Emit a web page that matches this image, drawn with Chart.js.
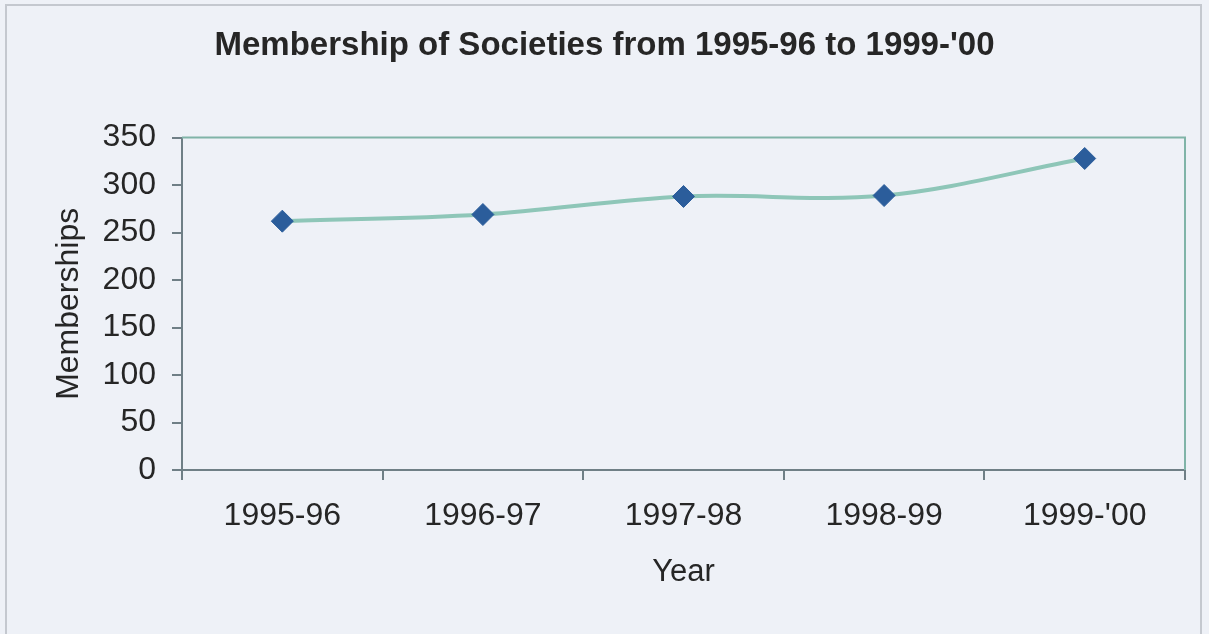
<!DOCTYPE html>
<html>
<head>
<meta charset="utf-8">
<title>Membership of Societies</title>
<script src="https://cdn.jsdelivr.net/npm/chart.js@4.4.1/dist/chart.umd.min.js"></script>
<style>
  html, body { margin: 0; padding: 0; background: #eef1f7; }
  #wrap { position: relative; width: 1209px; height: 634px; }
  #frame {
    position: absolute; left: 5px; top: 4px; width: 1197px; height: 640px;
    border: 2px solid #c4c8cf; box-sizing: border-box; pointer-events: none;
  }
</style>
</head>
<body>
<div id="wrap">
  <canvas id="membersChart" width="1209" height="634"></canvas>
  <div id="frame"></div>
</div>
<script>
// membership counts per academic year
var years = ["1995-96", "1996-97", "1997-98", "1998-99", "1999-'00"];
var memberships = [262, 269, 288, 289, 328];
var yTicks = [0, 50, 100, 150, 200, 250, 300, 350];

var textColor = "#262626";
var axisColor = "#6f7f86";
var frameColor = "#80b4a8";

// top and right edge of the plot area
const plotFrame = {
  id: "plotFrame",
  afterDraw(chart) {
    const { ctx, chartArea: a } = chart;
    ctx.save();
    ctx.strokeStyle = frameColor;
    ctx.lineWidth = 2;
    ctx.beginPath();
    ctx.moveTo(a.left, a.top);
    ctx.lineTo(a.right, a.top);
    ctx.lineTo(a.right, a.bottom);
    ctx.stroke();
    ctx.restore();
  },
};

const ctx = document.getElementById("membersChart").getContext("2d");
const membersChart = new Chart(ctx, {
  type: "line",
  data: {
    labels: years,
    datasets: [
      {
        label: "Memberships",
        data: memberships,
        borderColor: "#8ec6b8",
        borderWidth: 4,
        tension: 0.35,
        fill: false,
        pointStyle: "rectRot",
        pointRadius: 11,
        pointHoverRadius: 11,
        pointBackgroundColor: "#2b5d9b",
        pointBorderColor: "#2b5d9b",
        pointBorderWidth: 1,
      },
    ],
  },
  options: {
    responsive: false,
    animation: false,
    layout: { padding: { left: 12, right: 12, top: 0, bottom: 0 } },
    plugins: {
      legend: { display: false },
      tooltip: { enabled: false },
      title: {
        display: true,
        text: "Membership of Societies from 1995-96 to 1999-'00",
        color: textColor,
        font: { family: "'Liberation Sans', Arial, sans-serif", size: 33, weight: "bold" },
        padding: { top: 26, bottom: 72 },
      },
    },
    scales: {
      x: {
        offset: true,
        grid: {
          offset: true,
          drawOnChartArea: false,
          drawTicks: true,
          tickLength: 10,
          color: axisColor,
          lineWidth: 2,
        },
        border: { color: axisColor, width: 2 },
        ticks: {
          color: textColor,
          padding: 17,
          maxRotation: 0,
          font: { family: "'Liberation Sans', Arial, sans-serif", size: 32 },
        },
        title: {
          display: true,
          text: "Year",
          color: textColor,
          font: { family: "'Liberation Sans', Arial, sans-serif", size: 31 },
          padding: { top: 0, bottom: 43 },
        },
        afterFit(scale) {
          scale.height = 164;
        },
      },
      y: {
        min: 0,
        max: 350,
        afterBuildTicks(scale) {
          scale.ticks = yTicks.map((v) => ({ value: v }));
        },
        grid: {
          drawOnChartArea: false,
          drawTicks: true,
          tickLength: 10,
          color: axisColor,
          lineWidth: 2,
        },
        border: { color: axisColor, width: 2 },
        ticks: {
          color: textColor,
          padding: 16,
          font: { family: "'Liberation Sans', Arial, sans-serif", size: 32 },
        },
        title: {
          display: true,
          text: "Memberships",
          color: textColor,
          font: { family: "'Liberation Sans', Arial, sans-serif", size: 32 },
          padding: { top: 38, bottom: 0 },
        },
        afterFit(scale) {
          scale.width = 170;
        },
      },
      // empty gutter on the right so the title stays centred on the page
      yRight: {
        position: "right",
        display: true,
        grid: { display: false, drawTicks: false },
        border: { display: false },
        ticks: { display: false },
        afterFit(scale) {
          scale.width = 12;
        },
      },
    },
  },
  plugins: [plotFrame],
});
</script>
</body>
</html>
